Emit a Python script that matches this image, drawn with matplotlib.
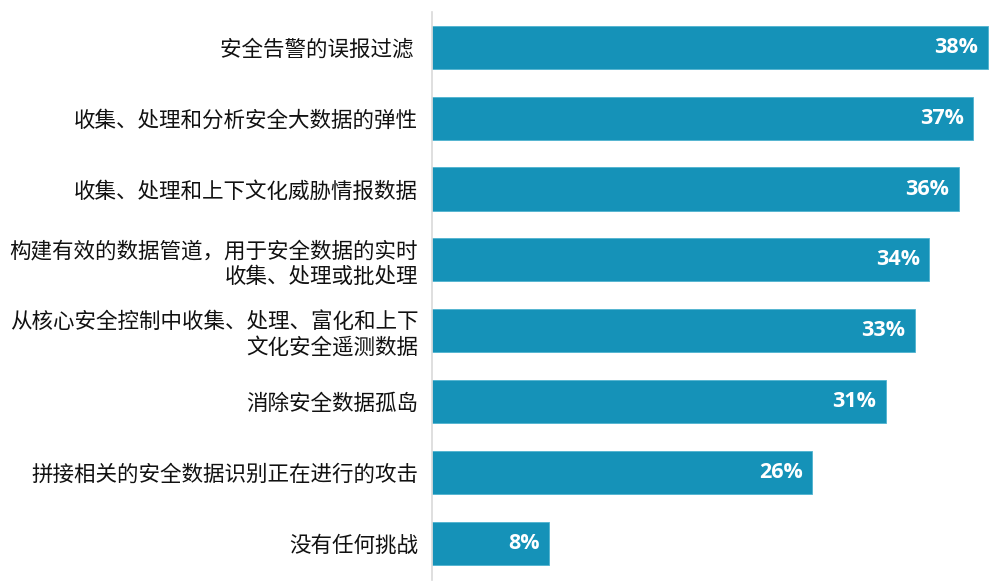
import matplotlib as mpl
mpl.use('Agg')
import matplotlib.pyplot as plt

categories = ['安全告警的误报过滤 ',
              '收集、处理和分析安全大数据的弹性',
              '收集、处理和上下文化威胁情报数据',
              '构建有效的数据管道，用于安全数据的实时\n收集、处理或批处理',
              '从核心安全控制中收集、处理、富化和上下\n文化安全遥测数据',
              '消除安全数据孤岛',
              '拼接相关的安全数据识别正在进行的攻击',
              '没有任何挑战']
values = [38, 37, 36, 34, 33, 31, 26, 8]

plt.rcParams['font.family'] = ['Noto Sans CJK SC', 'DejaVu Sans']

fig = plt.figure(figsize=(10.08, 5.88), dpi=100)
ax = fig.add_axes([432/1008, 8/588, 570/1008, 568/588])

pos = list(range(len(values)))
ax.barh(pos, values, height=0.61, color='#1592b8', edgecolor='#4fb3d0', linewidth=0.6)
for p, v in zip(pos, values):
    ax.text(v - 0.65, p, '%d%%' % v, ha='right', va='center', color='white',
            fontsize=15.5, fontweight='bold', family=['Open Sans', 'DejaVu Sans'])

ax.set_xlim(0, 38.96)
ax.set_ylim(7.52, -0.5)
ax.set_yticks(pos)
ax.set_yticklabels(categories, fontsize=15.5, linespacing=1.2, color='#111111')
ax.tick_params(axis='y', length=0, pad=10)
ax.set_xticks([])
for s in ['top', 'right', 'bottom']:
    ax.spines[s].set_visible(False)
ax.spines['left'].set_color('#d9d9d9')
ax.spines['left'].set_linewidth(1.2)

fig.savefig('out.png', dpi=100)
